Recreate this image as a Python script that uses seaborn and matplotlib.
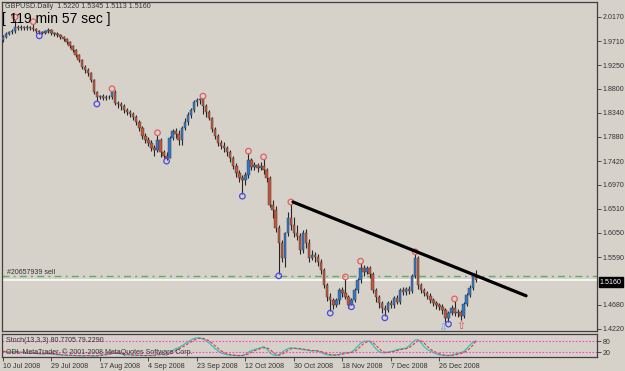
import numpy as np
import pandas as pd
import matplotlib
matplotlib.use("Agg")
import matplotlib.pyplot as plt
import seaborn as sns

# daily GBPUSD bars (one per trading day, Sundays included)
opens = [1.973, 1.979, 1.985, 1.988, 1.990, 1.998, 1.996, 1.998, 1.996, 1.998,
         1.996, 1.994, 1.990, 1.988, 1.987, 1.990, 1.992, 1.986, 1.985, 1.983,
         1.979, 1.975, 1.969, 1.962, 1.954, 1.944, 1.935, 1.922, 1.916, 1.910,
         1.897, 1.874, 1.864, 1.866, 1.863, 1.865, 1.864, 1.874, 1.853, 1.851,
         1.847, 1.840, 1.836, 1.832, 1.826, 1.817, 1.805, 1.790, 1.782, 1.777,
         1.767, 1.763, 1.782, 1.759, 1.752, 1.748, 1.786, 1.799, 1.794, 1.782,
         1.805, 1.817, 1.830, 1.840, 1.855, 1.859, 1.860, 1.847, 1.836, 1.824,
         1.803, 1.790, 1.777, 1.771, 1.767, 1.759, 1.748, 1.733, 1.719, 1.710,
         1.706, 1.716, 1.744, 1.731, 1.735, 1.729, 1.733, 1.725, 1.710, 1.658,
         1.649, 1.614, 1.586, 1.557, 1.605, 1.633, 1.620, 1.605, 1.599, 1.572,
         1.605, 1.586, 1.557, 1.563, 1.559, 1.550, 1.534, 1.506, 1.483, 1.477,
         1.467, 1.477, 1.496, 1.490, 1.483, 1.467, 1.477, 1.496, 1.515, 1.538,
         1.530, 1.538, 1.527, 1.496, 1.483, 1.471, 1.462, 1.458, 1.471, 1.467,
         1.481, 1.473, 1.496, 1.492, 1.498, 1.494, 1.523, 1.557, 1.506, 1.496,
         1.490, 1.485, 1.477, 1.471, 1.467, 1.464, 1.458, 1.443, 1.452, 1.462,
         1.452, 1.454, 1.447, 1.469, 1.487, 1.500, 1.5220]
highs = [1.983, 1.988, 1.991, 1.994, 2.012, 2.001, 2.001, 2.000, 2.001, 2.000,
         2.003, 1.996, 1.992, 1.991, 1.993, 1.996, 1.994, 1.989, 1.988, 1.985,
         1.981, 1.977, 1.971, 1.964, 1.956, 1.947, 1.937, 1.925, 1.919, 1.912,
         1.899, 1.876, 1.869, 1.870, 1.868, 1.869, 1.876, 1.878, 1.857, 1.855,
         1.851, 1.843, 1.840, 1.836, 1.830, 1.820, 1.809, 1.796, 1.788, 1.782,
         1.773, 1.792, 1.786, 1.763, 1.759, 1.790, 1.803, 1.805, 1.801, 1.809,
         1.824, 1.836, 1.843, 1.859, 1.862, 1.863, 1.862, 1.851, 1.840, 1.826,
         1.807, 1.794, 1.782, 1.778, 1.771, 1.763, 1.752, 1.738, 1.725, 1.716,
         1.721, 1.757, 1.748, 1.740, 1.738, 1.740, 1.746, 1.729, 1.714, 1.668,
         1.656, 1.620, 1.591, 1.607, 1.645, 1.660, 1.635, 1.620, 1.605, 1.610,
         1.612, 1.593, 1.572, 1.568, 1.565, 1.555, 1.538, 1.510, 1.490, 1.481,
         1.481, 1.500, 1.502, 1.517, 1.487, 1.481, 1.500, 1.519, 1.547, 1.544,
         1.542, 1.542, 1.530, 1.500, 1.487, 1.475, 1.467, 1.475, 1.477, 1.485,
         1.487, 1.500, 1.502, 1.502, 1.504, 1.527, 1.565, 1.561, 1.510, 1.500,
         1.494, 1.490, 1.481, 1.475, 1.471, 1.469, 1.462, 1.456, 1.467, 1.475,
         1.460, 1.458, 1.473, 1.490, 1.506, 1.527, 1.5345]
lows = [1.969, 1.976, 1.982, 1.985, 1.987, 1.992, 1.993, 1.992, 1.993, 1.992,
        1.990, 1.986, 1.984, 1.984, 1.985, 1.987, 1.982, 1.981, 1.979, 1.975,
        1.971, 1.965, 1.958, 1.950, 1.940, 1.931, 1.918, 1.911, 1.905, 1.893,
        1.870, 1.856, 1.860, 1.859, 1.858, 1.860, 1.860, 1.849, 1.843, 1.840,
        1.834, 1.830, 1.826, 1.820, 1.811, 1.799, 1.784, 1.777, 1.771, 1.761,
        1.752, 1.759, 1.750, 1.748, 1.745, 1.747, 1.782, 1.786, 1.773, 1.773,
        1.801, 1.811, 1.824, 1.836, 1.847, 1.851, 1.832, 1.826, 1.820, 1.798,
        1.784, 1.771, 1.765, 1.759, 1.752, 1.740, 1.727, 1.712, 1.702, 1.679,
        1.696, 1.710, 1.725, 1.725, 1.721, 1.725, 1.718, 1.702, 1.654, 1.633,
        1.607, 1.527, 1.550, 1.540, 1.599, 1.610, 1.597, 1.591, 1.565, 1.567,
        1.576, 1.550, 1.553, 1.550, 1.542, 1.527, 1.500, 1.475, 1.456, 1.460,
        1.463, 1.469, 1.483, 1.478, 1.462, 1.468, 1.473, 1.490, 1.510, 1.523,
        1.527, 1.519, 1.490, 1.473, 1.462, 1.452, 1.447, 1.454, 1.462, 1.462,
        1.469, 1.469, 1.487, 1.487, 1.488, 1.490, 1.519, 1.498, 1.490, 1.485,
        1.479, 1.471, 1.465, 1.460, 1.458, 1.450, 1.435, 1.435, 1.448, 1.447,
        1.445, 1.438, 1.443, 1.465, 1.483, 1.496, 1.5113]
closes = [1.979, 1.985, 1.988, 1.990, 1.998, 1.996, 1.998, 1.996, 1.998, 1.996,
          1.994, 1.990, 1.988, 1.987, 1.990, 1.992, 1.986, 1.985, 1.983, 1.979,
          1.975, 1.969, 1.962, 1.954, 1.944, 1.935, 1.922, 1.916, 1.910, 1.897,
          1.874, 1.864, 1.866, 1.863, 1.865, 1.864, 1.874, 1.853, 1.851, 1.847,
          1.840, 1.836, 1.832, 1.826, 1.817, 1.805, 1.790, 1.782, 1.777, 1.767,
          1.763, 1.782, 1.759, 1.752, 1.748, 1.786, 1.799, 1.794, 1.782, 1.805,
          1.817, 1.830, 1.840, 1.855, 1.859, 1.860, 1.847, 1.836, 1.824, 1.803,
          1.790, 1.777, 1.771, 1.767, 1.759, 1.748, 1.733, 1.719, 1.710, 1.706,
          1.716, 1.744, 1.731, 1.735, 1.729, 1.733, 1.725, 1.710, 1.658, 1.649,
          1.614, 1.586, 1.557, 1.605, 1.633, 1.620, 1.605, 1.599, 1.572, 1.605,
          1.586, 1.557, 1.563, 1.559, 1.550, 1.534, 1.506, 1.483, 1.477, 1.467,
          1.477, 1.496, 1.490, 1.483, 1.467, 1.477, 1.496, 1.515, 1.538, 1.530,
          1.538, 1.527, 1.496, 1.483, 1.471, 1.462, 1.458, 1.471, 1.467, 1.481,
          1.473, 1.496, 1.492, 1.498, 1.494, 1.523, 1.557, 1.506, 1.496, 1.490,
          1.485, 1.477, 1.471, 1.467, 1.464, 1.458, 1.443, 1.452, 1.462, 1.452,
          1.454, 1.447, 1.469, 1.487, 1.500, 1.522, 1.5160]

# Stochastic(13,3,3) main and signal
stoch_main = [25, 22, 20, 22, 25, 22, 20, 18, 15, 15,
              18, 15, 12, 12, 15, 14, 12, 10, 8, 7,
              6, 5, 5, 4, 4, 3, 3, 4, 4, 3,
              2, 3, 6, 8, 10, 12, 20, 18, 15, 12,
              10, 8, 7, 6, 5, 5, 4, 4, 5, 4,
              5, 12, 10, 8, 6, 18, 30, 40, 45, 55,
              65, 75, 85, 93, 97, 96, 90, 82, 70, 55,
              40, 28, 18, 12, 8, 6, 5, 4, 3, 4,
              10, 22, 30, 35, 40, 45, 50, 40, 20, 8,
              5, 6, 20, 32, 40, 45, 42, 40, 38, 35,
              33, 30, 28, 30, 26, 20, 12, 8, 6, 6,
              7, 10, 15, 20, 18, 22, 35, 52, 68, 78,
              80, 78, 60, 40, 25, 20, 18, 22, 25, 28,
              35, 38, 40, 42, 55, 70, 85, 87, 70, 50,
              35, 28, 20, 12, 8, 5, 4, 4, 6, 10,
              15, 18, 25, 40, 58, 72, 80.77]
stoch_signal = [27, 24, 22, 21, 22, 23, 22, 20, 18, 16,
                16, 16, 15, 13, 13, 14, 14, 12, 10, 8,
                7, 6, 5, 5, 4, 4, 3, 3, 4, 4,
                3, 3, 4, 6, 8, 10, 14, 17, 18, 15,
                12, 10, 8, 7, 6, 5, 5, 4, 4, 4,
                5, 7, 9, 10, 8, 11, 18, 29, 38, 47,
                55, 65, 75, 84, 92, 95, 94, 89, 81, 69,
                55, 41, 29, 19, 13, 9, 6, 5, 4, 4,
                6, 12, 21, 29, 35, 40, 45, 45, 37, 23,
                11, 6, 10, 19, 31, 39, 42, 42, 40, 38,
                35, 33, 30, 30, 28, 25, 19, 13, 9, 7,
                6, 8, 11, 15, 18, 20, 25, 36, 52, 66,
                75, 79, 73, 59, 42, 28, 21, 20, 22, 25,
                29, 34, 38, 40, 46, 56, 70, 81, 81, 69,
                52, 38, 28, 20, 13, 8, 6, 4, 5, 7,
                10, 14, 19, 28, 41, 57, 79.23]

date_pos = [0, 16, 32, 48, 64, 80, 96, 112, 128, 144]
date_labels = ["10 Jul 2008", "29 Jul 2008", "17 Aug 2008", "4 Sep 2008", "23 Sep 2008",
               "12 Oct 2008", "30 Oct 2008", "18 Nov 2008", "7 Dec 2008", "26 Dec 2008"]
price_ticks = [2.0170, 1.9710, 1.9250, 1.8800, 1.8340, 1.7880, 1.7420,
               1.6970, 1.6510, 1.6050, 1.5590, 1.4680, 1.4220]

# fractal marks
red_idx = [4, 10, 36, 51, 66, 81, 86, 95, 113, 118, 136, 149]
red_val = [2.017, 2.008, 1.880, 1.796, 1.866, 1.761, 1.750, 1.664, 1.521, 1.551, 1.569, 1.479]
blue_idx = [12, 31, 54, 79, 91, 108, 115, 126, 147]
blue_val = [1.981, 1.851, 1.742, 1.675, 1.523, 1.452, 1.464, 1.443, 1.431]

trend_idx = [95.7, 172.6]
trend_val = [1.664, 1.485]
order_price = 1.5227
bid = 1.5160

sns.set_style("white")
plt.rcParams['font.family'] = ['Liberation Sans', 'DejaVu Sans']

bg = '#d6d2ca'
W, H = 625, 371
fig = plt.figure(figsize=(6.25, 3.71), dpi=100, facecolor=bg)
ax = fig.add_axes([2 / W, 1 - 331 / H, 595 / W, 329 / H], facecolor=bg)
sub = fig.add_axes([2 / W, 1 - 357 / H, 595 / W, 23 / H], facecolor=bg, sharex=ax)

df = pd.DataFrame({"o": opens, "h": highs, "l": lows, "c": closes})
df["i"] = np.arange(len(df))
up = df["c"] >= df["o"]
body_col = np.where(up, '#3277cc', '#c5553a')

ax.vlines(df["i"], df["l"], df["h"], color='#262626', lw=0.8, zorder=2)
body_h = (df["c"] - df["o"]).where((df["c"] - df["o"]).abs() > 0.0008, 0.0008)
ax.bar(df["i"], body_h, bottom=df["o"], width=0.8, color=body_col,
       edgecolor='#3a3a3a', linewidth=0.3, zorder=3)

ax.scatter(red_idx, red_val, s=16, facecolors='none', edgecolors='#e06060', linewidths=0.9, zorder=4)
ax.scatter(blue_idx, blue_val, s=16, facecolors='none', edgecolors='#4a4ae0', linewidths=0.9, zorder=4)
ax.text(145, 1.4236, "\u21e9", color='#6aa6e0', fontsize=8, ha='center', va='center',
        family='DejaVu Sans', zorder=5)
ax.text(151, 1.4274, "\u21e7", color='#e05050', fontsize=8, ha='center', va='center',
        family='DejaVu Sans', zorder=5)

ax.axhline(order_price, color='#5fae5f', lw=1.0, ls=(0, (5, 3, 1.5, 3)), zorder=1)
ax.axhline(bid, color='white', lw=1.1, zorder=1)
sns.lineplot(x=trend_idx, y=trend_val, ax=ax, color='black', lw=2.3, zorder=6)

ax.set_xlim(-0.3, 196)
ax.set_ylim(1.4178, 2.0456)
ax.yaxis.tick_right()
ax.set_yticks(price_ticks)
ax.set_yticklabels([f"{v:.4f}" for v in price_ticks])
ax.tick_params(axis='y', right=True, length=3, width=0.6, pad=1, labelsize=5.1,
               colors='#333333')
ax.tick_params(axis='x', bottom=False, labelbottom=False)
ax.set_xlabel("")
ax.set_ylabel("")
for s in ax.spines.values():
    s.set_color('#404040')
    s.set_linewidth(0.9)

# stochastic window
idx = np.arange(len(stoch_main))
sns.lineplot(x=idx, y=stoch_main, ax=sub, color='#33c2c2', lw=0.9)
sns.lineplot(x=idx, y=stoch_signal, ax=sub, color='#e03a3a', lw=0.8, linestyle=(0, (2.5, 1.5)))
sub.axhline(80, color='#ff45c0', lw=0.8, ls=(0, (1.5, 1.5)))
sub.axhline(20, color='#ff45c0', lw=0.8, ls=(0, (1.5, 1.5)))
sub.set_ylim(-3.7, 116.8)
sub.yaxis.tick_right()
sub.set_yticks([80, 20])
sub.set_yticklabels(["80", "20"])
sub.tick_params(axis='y', right=True, length=3, width=0.6, pad=1, labelsize=5.1,
                colors='#333333')
sub.set_xticks(date_pos)
sub.set_xticklabels(date_labels, ha='left')
sub.tick_params(axis='x', bottom=True, length=3, width=0.6, pad=1.5, labelsize=5.1,
                colors='#333333')
sub.set_xlabel("")
sub.set_ylabel("")
for s in sub.spines.values():
    s.set_color('#404040')
    s.set_linewidth(0.9)

# texts
fig.text(5 / W, 1 - 6 / H, "GBPUSD.Daily  1.5220 1.5345 1.5113 1.5160", fontsize=5.1,
         color='#333333', va='center', ha='left')
fig.text(2 / W, 1 - 19 / H, "[ 119 min 57 sec ]", fontsize=10, color='black',
         va='center', ha='left')
fig.text(7 / W, 1 - 272 / H, "#20657939 sell", fontsize=5, color='#333333',
         va='center', ha='left')
fig.text(600 / W, 1 - 282 / H, "1.5160", fontsize=5.1, color='white', va='center', ha='left',
         bbox=dict(boxstyle='square,pad=0.15', fc='black', ec='black'))
fig.text(6 / W, 1 - 341 / H, "Stoch(13,3,3) 80.7705 79.2290", fontsize=5, color='#333333',
         va='center', ha='left')
fig.text(6 / W, 1 - 352 / H, "ODL MetaTrader, \u00a9 2001-2008 MetaQuotes Software Corp.",
         fontsize=5, color='#333333', va='center', ha='left')

fig.savefig("out.png", dpi=100, facecolor=bg)
